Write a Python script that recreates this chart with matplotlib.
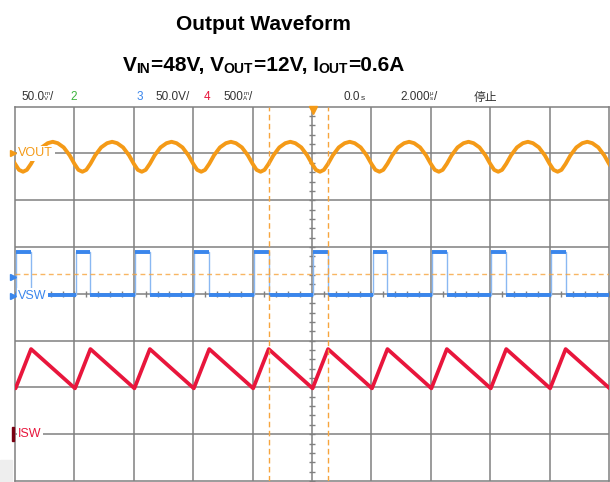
import matplotlib
matplotlib.use('Agg')
import matplotlib.pyplot as plt
from matplotlib.patches import Rectangle

# screen: 10 x 8 divisions, time in divisions (2.000 us/div)
period_starts = [-6, -5, -4, -3, -2, -1, 0, 1, 2, 3, 4, 5]

# CH1 VOUT, one switching period (div, ref line at +3 div)
vout_ref = 3
vout_phase = [0.0, 0.067, 0.135, 0.2, 0.27, 0.35, 0.45, 0.55, 0.635, 0.72, 0.82, 0.92]
vout_level = [-0.22, -0.35, -0.39, -0.35, -0.22, -0.04, 0.13, 0.22, 0.25, 0.22, 0.13, -0.04]

# CH3 VSW, edges inside a period and levels (div, ref line at 0 div)
vsw_ref = 0
vsw_rise = 0.02
vsw_fall = 0.27
vsw_high = 0.90
vsw_low = -0.03

# CH4 ISW, triangle valley / peak (div, ref line at -3 div)
isw_ref = -3
isw_valley_t = 0.01
isw_peak_t = 0.27
isw_valley = 0.98
isw_peak = 1.82

# cursors
cursor_t = [-0.724, 0.274]
cursor_level = 0.43

c_out = '#f49a17'
c_sw = '#3a86ec'
c_sw_edge = '#8ab8f2'
c_isw = '#e8163c'
c_grid = '#808080'
c_cur = '#f7a43c'
c_txt = '#333333'

narrow = ['Liberation Sans Narrow', 'Liberation Sans', 'DejaVu Sans']
W, H = 610, 482

fig = plt.figure(figsize=(W / 100, H / 100), dpi=100)
r = fig.canvas.get_renderer()


def px(x, y):
    return x / W, 1 - y / H


def width(t):
    return t.get_window_extent(r).width


# titles
fig.text(*px(263, 30), 'Output Waveform', ha='center', va='baseline',
         fontsize=15, fontweight='bold', family=narrow, color='black')

pieces = [('V', False), ('IN', True), ('=48V, V', False), ('OUT', True),
          ('=12V, I', False), ('OUT', True), ('=0.6A', False)]
parts = []
for s, sub in pieces:
    t = fig.text(0, 0, s, ha='left', va='baseline', fontsize=10 if sub else 15,
                 fontweight='bold', family=narrow, color='black')
    parts.append((t, sub, width(t)))
x = 263 - sum(p[2] for p in parts) / 2
for t, sub, w in parts:
    t.set_position(px(x, 73 if sub else 71))
    x += w + (0.5 if sub else 0)


# header line of the scope
def run(x, items, base=100):
    for kind, a, col in items:
        if kind == 'txt':
            t = fig.text(*px(x, base), a, va='baseline', ha='left', family=narrow,
                         fontsize=8.5, color=col)
            x += width(t) + 0.3
        elif kind == 'small':
            t = fig.text(*px(x, base), a, va='baseline', ha='left', family=narrow,
                         fontsize=6, color=col)
            x += width(t) + 0.3
        else:
            t1 = fig.text(*px(x, base - 5), a[0], va='baseline', ha='left', family=narrow,
                          fontsize=4.5, color=col)
            t2 = fig.text(*px(x, base + 0.5), a[1], va='baseline', ha='left', family=narrow,
                          fontsize=4.5, color=col)
            x += max(width(t1), width(t2)) + 0.3


run(21, [('txt', '50.0', c_txt), ('stack', 'mV', c_txt), ('txt', '/', c_txt)])
run(70, [('txt', '2', '#3cb43c')])
run(137, [('txt', '3', c_sw)])
run(155, [('txt', '50.0V/', c_txt)])
run(204, [('txt', '4', c_isw)])
run(223, [('txt', '500', c_txt), ('stack', 'mA', c_txt), ('txt', '/', c_txt)])
run(344, [('txt', '0.0', c_txt), ('small', 's', c_txt)])
run(400, [('txt', '2.000', c_txt), ('stack', 'μs', c_txt), ('txt', '/', c_txt)])
fig.text(*px(474, 100.5), '停止', va='baseline', ha='left', color=c_txt, fontsize=8.5,
         family=['Noto Sans CJK SC', 'DejaVu Sans'])

fig.patches.append(Rectangle(px(0, 482), 12 / W, 22 / H, transform=fig.transFigure,
                             color='#eeeeee', zorder=0))

# scope screen
ax = fig.add_axes([15 / W, 1 / H, 594 / W, 374.3 / H])
ax.set_xlim(-5, 5)
ax.set_ylim(-4, 4)
ax.set_xticks([])
ax.set_yticks([])
for sp in ax.spines.values():
    sp.set_color(c_grid)
    sp.set_linewidth(1.1)

ax.vlines(range(-4, 5), -4, 4, color=c_grid, lw=1.1, zorder=1)
ax.hlines(range(-3, 4), -5, 5, color=c_grid, lw=1.1, zorder=1)
minor_y = [i / 5 for i in range(-20, 21)]
minor_x = [i / 5 for i in range(-25, 26)]
ax.plot([0] * len(minor_y), minor_y, ls='none', marker='_', ms=5, mew=1, color=c_grid, zorder=1)
ax.plot(minor_x, [0] * len(minor_x), ls='none', marker='|', ms=5, mew=1, color=c_grid, zorder=1)

# VOUT
vt = [p + ph for p in period_starts for ph in vout_phase]
vv = [vout_ref + lv for p in period_starts for lv in vout_level]
ax.plot(vt, vv, color=c_out, lw=2.8, zorder=3, solid_joinstyle='round')

# VSW
st, sv = [], []
for p in period_starts:
    st += [p + vsw_rise, p + vsw_rise, p + vsw_fall, p + vsw_fall]
    sv += [vsw_ref + vsw_low, vsw_ref + vsw_high, vsw_ref + vsw_high, vsw_ref + vsw_low]
ax.plot(st, sv, color=c_sw_edge, lw=1.0, zorder=3)
ax.hlines([vsw_ref + vsw_high] * len(period_starts), [p + vsw_rise for p in period_starts],
          [p + vsw_fall for p in period_starts], color=c_sw, lw=2.8, zorder=3)
ax.hlines([vsw_ref + vsw_low] * len(period_starts), [p + vsw_fall for p in period_starts],
          [p + 1 + vsw_rise for p in period_starts], color=c_sw, lw=2.8, zorder=3)

# ISW
it, iv = [], []
for p in period_starts:
    it += [p + isw_valley_t, p + isw_peak_t]
    iv += [isw_ref + isw_valley, isw_ref + isw_peak]
ax.plot(it, iv, color=c_isw, lw=2.7, zorder=3)

# cursors and trigger
for ct in cursor_t:
    ax.axvline(ct, color=c_cur, lw=1.0, ls=(0, (4, 2.5)), zorder=4)
ax.axhline(cursor_level, color=c_cur, lw=1.0, ls=(0, (3.5, 2.5)), alpha=0.8, zorder=4)
ax.plot([0.01], [3.93], marker='v', ms=6, color=c_out, clip_on=False, zorder=5)

# channel labels and ground markers
lab = dict(family=narrow, fontsize=9, va='center', ha='left', zorder=6,
           bbox=dict(facecolor='white', edgecolor='none', pad=1.2))
ax.text(-4.945, vout_ref, 'VOUT', color=c_out, **lab)
ax.text(-4.945, vsw_ref - 0.04, 'VSW', color=c_sw, **lab)
ax.text(-4.945, isw_ref, 'ISW', color=c_isw, **lab)
ax.plot([-5.03], [vout_ref], marker='>', ms=4, color=c_out, clip_on=False, zorder=6)
ax.plot([-5.03, -5.03], [vsw_ref - 0.04, 0.37], ls='none', marker='>', ms=4, color=c_sw,
        clip_on=False, zorder=6)
ax.add_patch(Rectangle((-5.05, isw_ref - 0.15), 0.04, 0.3, color='#7a0012', clip_on=False, zorder=6))

fig.savefig('out.png', dpi=100)
